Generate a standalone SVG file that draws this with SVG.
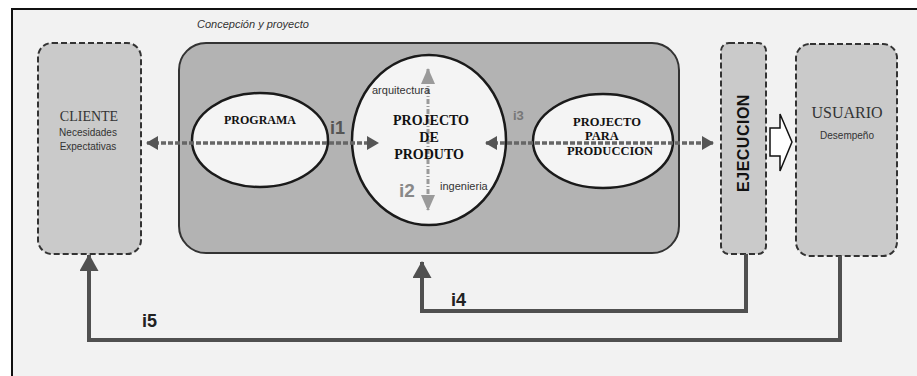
<svg xmlns="http://www.w3.org/2000/svg" width="917" height="376" viewBox="0 0 917 376">
<defs>
<style>
.frame{fill:#f2f2f2;stroke:#111;stroke-width:2}
.dbox{fill:#cacaca;stroke:#333;stroke-width:2;stroke-dasharray:6 3}
.big{fill:#b3b3b3;stroke:#333;stroke-width:2}
.ell{fill:#f4f4f4;stroke:#1a1a1a;stroke-width:2.5}
.serifb{font-family:"Liberation Serif","Times New Roman",serif;font-weight:bold;fill:#111;text-anchor:middle}
.serif{font-family:"Liberation Serif","Times New Roman",serif;fill:#333;text-anchor:middle}
.sans{font-family:"Liberation Sans",Arial,sans-serif;fill:#333}
.lbl{font-family:"Liberation Sans",Arial,sans-serif;font-weight:bold}
.dash{fill:none;stroke:#666;stroke-width:3.5;stroke-dasharray:5 2}
.vdash{fill:none;stroke:#9a9a9a;stroke-width:3;stroke-dasharray:5 2 1 2}
.fb{fill:none;stroke:#505050;stroke-width:4}
</style>
<marker id="ah" viewBox="0 0 12 14" refX="11" refY="7" markerWidth="12" markerHeight="14" markerUnits="userSpaceOnUse" orient="auto-start-reverse"><path d="M0,0 L12,7 L0,14 Z" fill="#555"/></marker>
<marker id="ahv" viewBox="0 0 16 14" refX="15" refY="7" markerWidth="16" markerHeight="14" markerUnits="userSpaceOnUse" orient="auto-start-reverse"><path d="M0,0 L16,7 L0,14 Z" fill="#9a9a9a"/></marker>
<marker id="ahf" viewBox="0 0 17 19" refX="16" refY="9.5" markerWidth="17" markerHeight="19" markerUnits="userSpaceOnUse" orient="auto"><path d="M0,0 L17,9.5 L0,19 Z" fill="#505050"/></marker>
</defs>
<rect x="0" y="0" width="917" height="376" fill="#ffffff"/>
<rect class="frame" x="12" y="9" width="920" height="380"/>
<text class="sans" x="197" y="28" font-size="11" font-style="italic" fill="#222">Concepción y proyecto</text>

<g id="proyecto">
<rect class="big" x="179" y="43" width="500" height="210" rx="27" ry="27"/>
</g>

<g id="cliente">
<rect class="dbox" x="38" y="43" width="103" height="211" rx="14" ry="14"/>
<text class="serif" x="89" y="121" font-size="14">CLIENTE</text>
<text class="sans" x="88" y="136" font-size="10" text-anchor="middle">Necesidades</text>
<text class="sans" x="88" y="150" font-size="10" text-anchor="middle">Expectativas</text>
</g>

<g id="ejecucion">
<rect class="dbox" x="721" y="43" width="45" height="211" rx="8" ry="8"/>
<text class="lbl" x="0" y="0" font-size="16" letter-spacing="0.5" fill="#111" text-anchor="middle" transform="translate(749,143) rotate(-90)">EJECUCION</text>
</g>

<g id="usuario">
<rect class="dbox" x="796" y="44" width="101" height="212" rx="14" ry="14"/>
<text class="serif" x="847" y="118" font-size="16" fill="#444">USUARIO</text>
<text class="sans" x="847" y="139" font-size="10" text-anchor="middle">Desempeño</text>
</g>

<g id="programa">
<ellipse class="ell" cx="260" cy="140" rx="68" ry="47"/>
<text class="serifb" x="260" y="124" font-size="12">PROGRAMA</text>
</g>

<g id="produto">
<ellipse class="ell" cx="429" cy="140" rx="77" ry="85"/>
</g>

<g id="produccion">
<ellipse class="ell" cx="603" cy="141" rx="70" ry="47"/>
</g>

<g id="connectors">
<line class="dash" x1="147" y1="143" x2="378" y2="143" marker-start="url(#ah)" marker-end="url(#ah)"/>
<line class="dash" x1="486" y1="143" x2="713" y2="143" marker-start="url(#ah)" marker-end="url(#ah)"/>
<line class="vdash" x1="428" y1="69" x2="428" y2="210" marker-start="url(#ahv)" marker-end="url(#ahv)"/>
<path d="M746,254 V311 H422 V262" class="fb" marker-end="url(#ahf)"/>
<path d="M840,256 V340 H89 V255" class="fb" marker-end="url(#ahf)"/>
<path d="M770,128 H780 V114 L792,142 L780,171 V156 H770 Z" fill="#fff" stroke="#111" stroke-width="1.5"/>
<text class="lbl" x="330" y="134" font-size="18" fill="#555">i1</text>
<text class="lbl" x="399" y="197" font-size="19" fill="#888">i2</text>
<text class="lbl" x="513" y="120" font-size="13" fill="#777">i3</text>
<text class="lbl" x="451" y="306" font-size="18" fill="#222">i4</text>
<text class="lbl" x="142" y="327" font-size="18" fill="#222">i5</text>
</g>

<g id="produto-text">
<text class="sans" x="372" y="94" font-size="11" fill="#222">arquitectura</text>
<text class="sans" x="440" y="190" font-size="11" fill="#222">ingenieria</text>
<text class="serifb" x="431" y="125" font-size="14">PROJECTO</text>
<text class="serifb" x="429" y="142" font-size="14">DE</text>
<text class="serifb" x="429" y="159" font-size="14">PRODUTO</text>
</g>
<g id="produccion-text">
<text class="serifb" x="607" y="126" font-size="12.5">PROJECTO</text>
<text class="serifb" x="602" y="140" font-size="12.5">PARA</text>
<text class="serifb" x="610" y="155" font-size="12.5">PRODUCCION</text>
</g>
</svg>
